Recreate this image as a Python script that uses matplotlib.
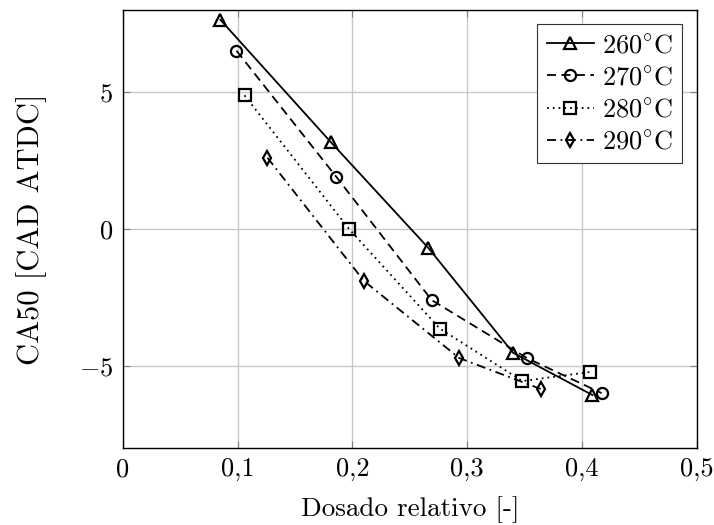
import matplotlib
matplotlib.use('Agg')
from matplotlib import pyplot as plt
from matplotlib.ticker import FuncFormatter, MultipleLocator

plt.rcParams['font.family'] = 'serif'
plt.rcParams['font.serif'] = ['cmr10', 'DejaVu Serif']
plt.rcParams['mathtext.fontset'] = 'cm'
plt.rcParams['axes.unicode_minus'] = False

# datos
labels = ['260$^{\\circ}$C', '270$^{\\circ}$C', '280$^{\\circ}$C', '290$^{\\circ}$C']
x_260 = [0.085, 0.181, 0.266, 0.340, 0.409]
y_260 = [7.64, 3.18, -0.69, -4.53, -6.07]
x_270 = [0.099, 0.186, 0.269, 0.352, 0.417]
y_270 = [6.51, 1.90, -2.60, -4.72, -6.00]
x_280 = [0.106, 0.197, 0.276, 0.348, 0.407]
y_280 = [4.88, 0.0, -3.64, -5.56, -5.23]
x_290 = [0.126, 0.210, 0.293, 0.364]
y_290 = [2.60, -1.90, -4.72, -5.85]

series = [(x_260, y_260), (x_270, y_270), (x_280, y_280), (x_290, y_290)]
styles = ['-', (0, (5, 3)), (0, (1, 2.2)), (0, (5, 2.5, 1, 2.5))]
markers = ['^', 'o', 's', 'd']
msizes = [8, 8, 8, 7]

fig = plt.figure(figsize=(7.14, 5.25), dpi=100)
ax = fig.add_axes([0.172, 0.147, 0.804, 0.834])

for (xs, ys), ls, mk, ms, lab in zip(series, styles, markers, msizes, labels):
    ax.plot(xs, ys, color='black', linestyle=ls, linewidth=1.3,
            marker=mk, markersize=ms, markerfacecolor='none',
            markeredgewidth=1.6, label=lab)

ax.set_xlim(0, 0.5)
ax.set_ylim(-8, 8)
ax.xaxis.set_major_locator(MultipleLocator(0.1))
ax.yaxis.set_major_locator(MultipleLocator(5))
ax.xaxis.set_major_formatter(FuncFormatter(lambda v, p: ('%g' % round(v, 2)).replace('.', ',')))
ax.yaxis.set_major_formatter(FuncFormatter(lambda v, p: '$%d$' % round(v)))
ax.grid(True, color='#c8c8c8', linewidth=1.0)
ax.set_axisbelow(True)
ax.tick_params(direction='in', top=True, right=True, length=5, width=0.8,
               color='#808080', labelsize=19, pad=7)
for s in ax.spines.values():
    s.set_linewidth(1.0)

ax.set_xlabel('Dosado relativo [-]', fontsize=19.5, labelpad=11)
ax.set_ylabel('CA50 [CAD ATDC]', fontsize=22, labelpad=23)

leg = ax.legend(loc='upper right', fontsize=19, handlelength=1.8,
                fancybox=False, edgecolor='#333333', framealpha=1,
                borderaxespad=0.55, labelspacing=0.32, handletextpad=0.3,
                borderpad=0.35)
leg.get_frame().set_linewidth(0.8)

fig.savefig('out.png', dpi=100)
